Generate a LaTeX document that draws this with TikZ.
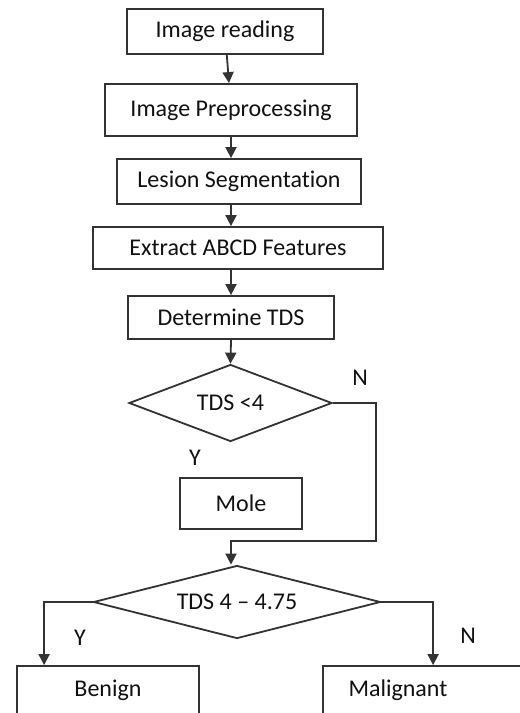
\documentclass[tikz,border=0pt]{standalone}
\usepackage{fontspec}
\setmainfont{Carlito}[Ligatures=NoCommon]
\usetikzlibrary{positioning,arrows.meta,shapes.geometric}
\definecolor{stroke}{HTML}{333333}
\definecolor{ink}{HTML}{111111}

\begin{document}
\begin{tikzpicture}[x=0.5pt,y=-0.5pt,text centered,inner sep=0pt,text=ink,
    font=\fontsize{12}{14}\selectfont]
    \tikzstyle{box}=[draw=stroke,line width=0.9pt]
    \tikzstyle{test}=[draw=stroke,line width=0.9pt,diamond,aspect=3]
    \tikzstyle{arr}=[draw=stroke,line width=0.9pt,-{Triangle[width=5.5pt,length=5.5pt]}]
    \useasboundingbox (0,0) rectangle (520,713);
    \clip (0,0) rectangle (520,713);

    % process steps
    \node[box,minimum width=98pt,minimum height=22.5pt] (b1) at (225,31.5) {Image reading};
    \node[box,minimum width=126pt,minimum height=26pt] (b2) at (231,110) {Image Preprocessing};
    \node[box,minimum width=122pt,minimum height=22.5pt] (b3) at (239,181.5) {Lesion Segmentation};
    \node[box,minimum width=145pt,minimum height=21pt] (b4) at (238,248) {Extract ABCD Features};
    \node[box,minimum width=103pt,minimum height=21.5pt] (b5) at (231,317.5) {Determine TDS};

    % decisions
    \node[test,minimum width=101.5pt,minimum height=38.5pt] (d1) at (230.5,403) {TDS <4};
    \node[box,minimum width=61pt,minimum height=25.5pt] (mole) at (241,503.5) {Mole};
    \node[test,minimum width=143.5pt,minimum height=36.5pt] (d2) at (237,602) {TDS 4 -- 4.75};
    \node[box,minimum width=91pt,minimum height=24pt] (ben) at (108,690) {Benign};
    \node[box,minimum width=103.5pt,minimum height=24pt,
        label={[xshift=-14.25pt]center:Malignant}] (mal) at (426.5,690) {};

    % labels
    \node (n1) at (360,378) {N};
    \node (y1) at (195,458) {Y};
    \node (y2) at (80,638) {Y};
    \node (n2) at (468,636) {N};

    \coordinate (turn) at (376,541);
    \coordinate (join) at (231,541);

    \draw[arr] (b1) -- (b2);
    \draw[arr] (b2.south) -- (b2.south |- b3.north);
    \draw[arr] (b3.south -| b2.south) -- (b4.north -| b2.south);
    \draw[arr] (b4.south -| b2.south) -- (b5.north -| b2.south);
    \draw[arr] (b5.south) -- (d1.north);
    \draw[arr] (d1.east) -| (turn) -- (join) -- (join |- d2.north);
    \draw[arr] (d2.west) -| ([xshift=14pt]ben.north west);
    \draw[arr] (d2.east) -| ([xshift=55.5pt]mal.north west);
\end{tikzpicture}
\end{document}
